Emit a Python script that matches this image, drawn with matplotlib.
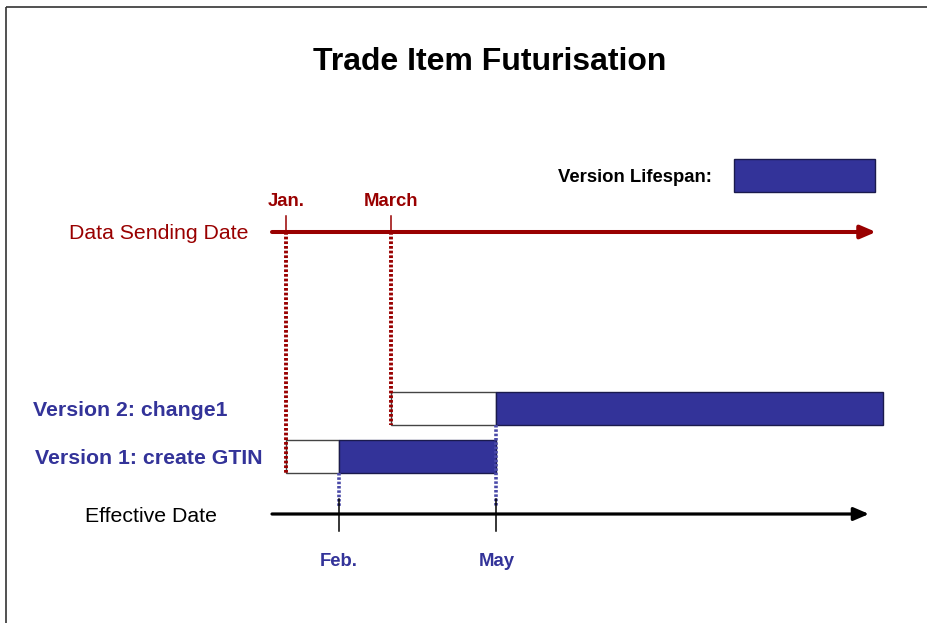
import matplotlib
matplotlib.use('Agg')
import matplotlib.pyplot as plt
from matplotlib.patches import Rectangle
from matplotlib.transforms import blended_transform_factory

# ---- data ----
title = "Trade Item Futurisation"
versions = ["Version 1: create GTIN", "Version 2: change1"]
send_month = [1, 3]          # data sending date (month number)
send_labels = ["Jan.", "March"]
effective_month = [2, 5]     # effective date (month number)
effective_labels = ["Feb.", "May"]
end_month = [5, 12.36]       # end of version lifespan

# ---- style / layout ----
RED = "#990000"
BLUE = "#333399"
EDGE = "#1a1a4d"
plt.rcParams['font.family'] = ['Liberation Sans', 'DejaVu Sans']

W, H = 928, 623
X0, PPM = 234.0, 52.5  # pixel of month 0, pixels per month
row_top = [440, 392]
row_h = 33

fig = plt.figure(figsize=(W / 100, H / 100), dpi=100)
ax = fig.add_axes([0, 0, 1, 1])
ax.set_xlim(-X0 / PPM, (W - X0) / PPM)
ax.set_ylim(H, 0)
ax.axis('off')
bt = blended_transform_factory(ax.transAxes, ax.transData)

def fx(px):
    return px / W

# frame
ax.plot([fx(6), 1], [7, 7], transform=bt, color="#333333", lw=1.2, solid_capstyle='butt')
ax.plot([fx(6), fx(6)], [7, H], transform=bt, color="#333333", lw=1.2, solid_capstyle='butt')

# title
ax.text(fx(490), 62, title, transform=bt, ha='center', va='center',
        fontsize=23, weight='bold', color='black')

# legend
ax.text(fx(712), 178, "Version Lifespan:", transform=bt, ha='right', va='center',
        fontsize=13.3, weight='bold', color='black')
ax.add_patch(Rectangle((fx(734), 159), fx(141), 33, transform=bt,
                       facecolor=BLUE, edgecolor=EDGE, lw=1.0))

# axes labels
ax.text(fx(249), 233.5, "Data Sending Date", transform=bt, ha='right', va='center',
        fontsize=15.3, color=RED)
ax.text(fx(217), 516.5, "Effective Date", transform=bt, ha='right', va='center',
        fontsize=15.3, color='black')

# timeline arrows
ax.annotate("", xy=(fx(876), 232), xytext=(fx(272), 232), xycoords=bt, textcoords=bt,
            arrowprops=dict(arrowstyle="-|>,head_length=0.7,head_width=0.3",
                            color=RED, lw=2.9, mutation_scale=13, shrinkA=0, shrinkB=0))
ax.annotate("", xy=(fx(869), 514), xytext=(fx(272), 514), xycoords=bt, textcoords=bt,
            arrowprops=dict(arrowstyle="-|>,head_length=0.7,head_width=0.3",
                            color='black', lw=2.3, mutation_scale=13, shrinkA=0, shrinkB=0))

dot = (0, (0.7, 0.5))
for i, name in enumerate(versions):
    top = row_top[i]
    bottom = top + row_h
    s, e, z = send_month[i], effective_month[i], end_month[i]
    # pending part (sent but not yet effective)
    ax.add_patch(Rectangle((s, top), e - s, row_h, facecolor='white',
                           edgecolor='#444444', lw=1.0, zorder=2))
    # lifespan part
    ax.add_patch(Rectangle((e, top), z - e, row_h, facecolor=BLUE,
                           edgecolor=EDGE, lw=1.0, zorder=2))
    # version label
    ax.text(fx(33 + 2 * (1 - i)), top + row_h / 2 + 1.5, name, transform=bt, ha='left',
            va='center', fontsize=15.3, weight='bold', color=BLUE)
    # sending date tick + dotted drop
    ax.plot([s, s], [216, 232], color=RED, lw=1.1, zorder=3)
    ax.plot([s, s], [232, bottom], color=RED, lw=2.8, ls=dot, zorder=3)
    ax.text(s, 202, send_labels[i], ha='center', va='center', fontsize=13.3,
            weight='bold', color=RED)
    # effective date tick + dotted drop
    ax.plot([e, e], [bottom, 506], color="#4a4aa8", lw=2.6, ls=dot, zorder=3)
    ax.plot([e, e], [499, 531], color='black', lw=1.1, zorder=3)
    ax.text(e, 562, effective_labels[i], ha='center', va='center', fontsize=13.3,
            weight='bold', color=BLUE)

fig.savefig("out.png", dpi=100)
